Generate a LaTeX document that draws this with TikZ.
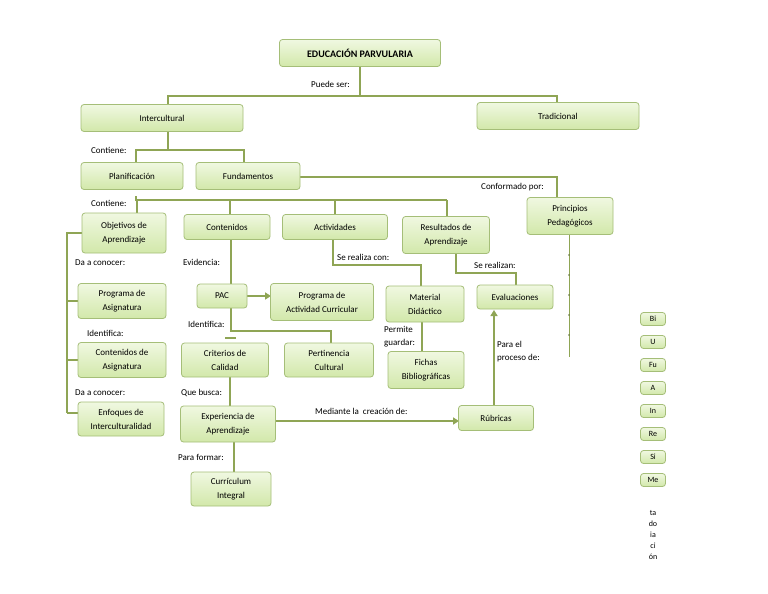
\documentclass[tikz,border=0pt]{standalone}
\usepackage{fontspec}
\setmainfont{Carlito}
\usetikzlibrary{arrows.meta}
\definecolor{lnk}{RGB}{143,165,85}
\definecolor{bd}{RGB}{165,190,120}
\definecolor{ftop}{RGB}{240,248,225}
\definecolor{fbot}{RGB}{210,232,170}
\begin{document}
\begin{tikzpicture}[x=1pt,y=-1pt,
  box/.style={draw=bd,line width=0.8pt,rounded corners=3pt,top color=ftop,bottom color=fbot,align=center,inner sep=1pt,font=\fontsize{9}{14}\selectfont},
  ln/.style={draw=lnk,line width=2.6pt},
  ar/.style={ln,-{Triangle[length=6pt,width=7pt]}},
  lb/.style={font=\fontsize{9}{11}\selectfont,inner sep=0pt,anchor=west,align=left}]
\useasboundingbox (0,0) rectangle (768,594);
\fill[white] (0,0) rectangle (768,594);
% connectors first
\coordinate (j1) at (360,96);
\draw[ln] (360,67) -- (j1);
\draw[ln] (168,104) -- (168,96) -- (557,96) -- (557,103);
\draw[ln] (168,131) -- (168,150);
\draw[ln] (136,163) -- (136,150) -- (244,150) -- (244,163);
\draw[ln] (300,177) -- (557,177) -- (557,198);
\draw[ln] (135,200) -- (447,200);
\draw[ln] (136,196) -- (136,200);
\draw[ln] (137,200) -- (137,213);
\draw[ln] (230,200) -- (230,215);
\draw[ln] (335,200) -- (335,215);
\draw[ln] (447,200) -- (447,216);
\draw[ln] (82,233) -- (67,233) -- (67,413);
\draw[ln] (67,301) -- (78,301);
\draw[ln] (67,360) -- (78,360);
\draw[ln] (67,413) -- (78,413);
\draw[ln] (231,240) -- (231,284);
\draw[ln] (333,240) -- (333,265) -- (421,265) -- (421,286);
\draw[ln] (456,253) -- (456,273) -- (516,273) -- (516,286);
\draw[ar] (247,296) -- (271,296);
\draw[ln] (231,307) -- (231,331) -- (331,331) -- (331,343);
\draw[ln] (225,338) -- (236,338);
\draw[ln] (422,322) -- (422,352);
\draw[ln] (230,377) -- (230,406);
\draw[ar] (276,421) -- (459,421);
\draw[ar] (494,406) -- (494,310);
\draw[ln] (234,442) -- (234,472);
\draw[lnk,line width=1pt] (569,235) -- (569,357);
\foreach \y in {255,275,295,315,335} \fill[lnk!70!black] (569,\y) circle (0.8);
% nodes
\node[box,minimum width=161,minimum height=27,font=\bfseries\fontsize{10}{12}\selectfont] (edu) at (360,53) {EDUCACIÓN PARVULARIA};
\node[box,minimum width=162,minimum height=27] (inter) at (162,118) {Intercultural};
\node[box,minimum width=162,minimum height=27] (trad) at (558,116) {Tradicional};
\node[box,minimum width=102,minimum height=27] (plan) at (132,176) {Planificación};
\node[box,minimum width=104,minimum height=27] (fund) at (248,176) {Fundamentos};
\node[box,minimum width=84,minimum height=40] (obj) at (124,233) {Objetivos de\\Aprendizaje};
\node[box,minimum width=86,minimum height=25] (cont) at (227,227) {Contenidos};
\node[box,minimum width=105,minimum height=25] (act) at (335,227) {Actividades};
\node[box,minimum width=87,minimum height=37] (res) at (446,235) {Resultados de\\Aprendizaje};
\node[box,minimum width=86,minimum height=37] (prin) at (570,216) {Principios\\Pedagógicos};
\node[box,minimum width=88,minimum height=35] (pasig) at (122,301) {Programa de\\Asignatura};
\node[box,minimum width=88,minimum height=35] (casig) at (122,360) {Contenidos de\\Asignatura};
\node[box,minimum width=86,minimum height=34] (enf) at (121,419) {Enfoques de\\Interculturalidad};
\node[box,minimum width=50,minimum height=24] (pac) at (222,296) {PAC};
\node[box,minimum width=103,minimum height=37] (pacu) at (322,302) {Programa de\\Actividad Curricular};
\node[box,minimum width=78,minimum height=36] (mat) at (425,304) {Material\\Didáctico};
\node[box,minimum width=76,minimum height=24] (eva) at (515,297) {Evaluaciones};
\node[box,minimum width=87,minimum height=34] (cri) at (225,360) {Criterios de\\Calidad};
\node[box,minimum width=89,minimum height=34] (per) at (329,360) {Pertinencia\\Cultural};
\node[box,minimum width=76,minimum height=37] (fic) at (426,370) {Fichas\\Bibliográficas};
\node[box,minimum width=95,minimum height=36] (exp) at (228,424) {Experiencia de\\Aprendizaje};
\node[box,minimum width=75,minimum height=25] (rub) at (496,418) {Rúbricas};
\node[box,minimum width=80,minimum height=34] (cur) at (231,489) {Currículum\\Integral};
% right column
\foreach \t [count=\i] in {Bi,U,Fu,A,In,Re,Si,Me}
  \node[box,minimum width=25,minimum height=13,font=\fontsize{8}{9}\selectfont] (r\i) at (653,296+23*\i) {\t};
\node[font=\fontsize{8}{11}\selectfont,align=center] (rt) at (653,535) {ta\\do\\ia\\ci\\ón};
% labels
\node[lb,anchor=east] (l1) at (350,84) {Puede ser:};
\node[lb] (l2) at (91,150) {Contiene:};
\node[lb] (l3) at (91,203) {Contiene:};
\node[lb] (l4) at (481,187) {Conformado por:};
\node[lb] (l5) at (75,263) {Da a conocer:};
\node[lb] (l6) at (183,262) {Evidencia:};
\node[lb] (l7) at (337,257) {Se realiza con:};
\node[lb] (l8) at (474,265) {Se realizan:};
\node[lb] (l9) at (87,333) {Identifica:};
\node[lb] (l10) at (188,324) {Identifica:};
\node[lb,font=\fontsize{9}{13}\selectfont] (l11) at (384,337) {Permite\\guardar:};
\node[lb,font=\fontsize{9}{13}\selectfont] (l12) at (497,352) {Para el\\proceso de:};
\node[lb] (l13) at (75,393) {Da a conocer:};
\node[lb] (l14) at (181,393) {Que busca:};
\node[lb] (l15) at (315,411) {Mediante la\ \ creación de:};
\node[lb] (l16) at (178,457) {Para formar:};
\end{tikzpicture}
\end{document}
